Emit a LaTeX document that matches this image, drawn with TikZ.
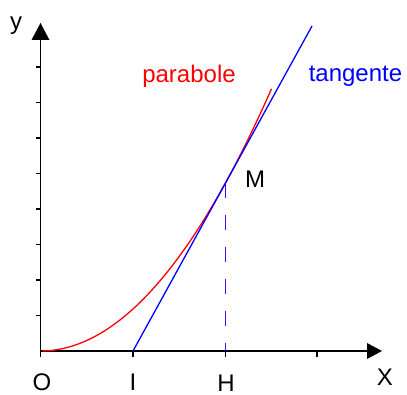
\documentclass[tikz,border=0pt]{standalone}
\usepackage{fontspec}
\setmainfont{Liberation Sans}
\definecolor{dashblue}{RGB}{80,0,240}
\tikzset{
  axis/.style={line width=1.6pt, black},
  tick/.style={line width=1.5pt, black},
  lbl/.style={anchor=base, inner sep=0pt, font=\fontsize{24}{24}\selectfont},
  curve/.style={line width=1.3pt},
}
\begin{document}
\begin{tikzpicture}[x=1pt,y=-1pt]
\useasboundingbox (0,0) rectangle (407,395);
% key points
\coordinate (O) at (40.5,351);
\coordinate (Ytop) at (40.5,40);
\coordinate (Xend) at (367,351);
\coordinate (I) at (133,351);
\coordinate (H) at (225.5,351);
\coordinate (M) at (225.5,183);
\coordinate (T) at (312,26);
% axes
\draw[axis] (O) -- (Ytop);
\draw[axis] (O) -- (Xend);
\fill (40.5,23) -- (31.5,40) -- (49.5,40) -- cycle;
\fill (382,351) -- (367,343) -- (367,359) -- cycle;
% ticks
\foreach \k in {1,...,8} \draw[tick] (36,351-35.5*\k) -- (40.5,351-35.5*\k);
\foreach \x in {40.5,133,225.5,317} \draw[tick] (\x,351) -- (\x,356.5);
% parabola
\draw[curve, red] plot[domain=2:231, samples=60] ({40.5+\x},{351-0.00491*\x*\x});
% tangent
\draw[curve, blue] (I) -- (T);
% dashed line
\draw[line width=1.6pt, dashblue, dash pattern=on 15pt off 17pt] (M) -- (H);
% labels
\node[lbl] (ly) at (16,30) {y};
\node[lbl] (lO) at (42,390) {O};
\node[lbl] (lI) at (133,390) {I};
\node[lbl] (lH) at (226,391) {H};
\node[lbl] (lX) at (385,385) {X};
\node[lbl] (lM) at (255,188) {M};
\node[lbl, red] (lp) at (189,83) {parabole};
\node[lbl, blue] (lt) at (355.5,82) {tangente};
\end{tikzpicture}
\end{document}
